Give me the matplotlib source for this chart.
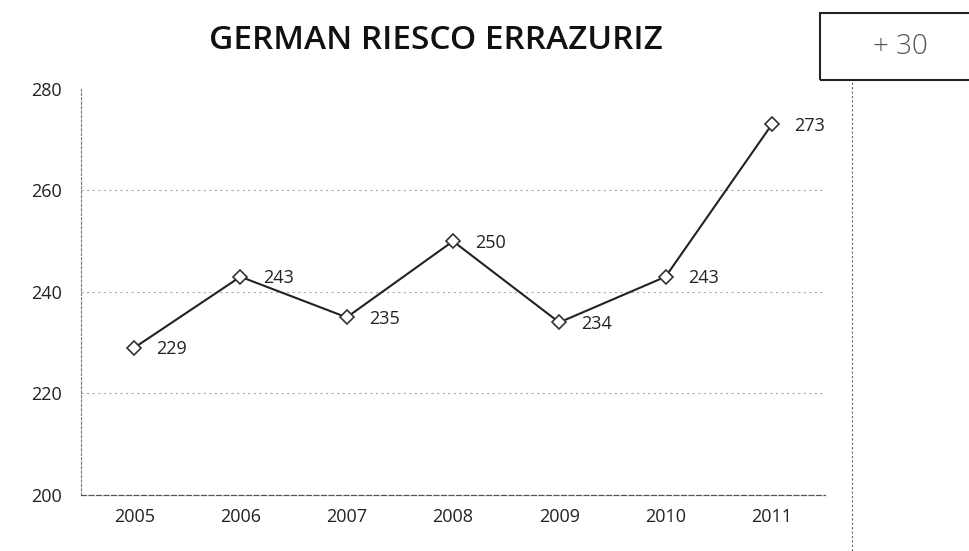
import matplotlib
matplotlib.use("Agg")
import matplotlib.pyplot as plt
from matplotlib.patches import Rectangle
from matplotlib.lines import Line2D

years = ["2005", "2006", "2007", "2008", "2009", "2010", "2011"]
values = [229, 243, 235, 250, 234, 243, 273]
title = "GERMAN RIESCO ERRAZURIZ"
box_text = "+ 30"
yticks = [200, 220, 240, 260, 280]

plt.rcParams['font.family'] = ['Open Sans', 'DejaVu Sans']

fig = plt.figure(figsize=(9.7, 5.51), dpi=100)
ax = fig.add_axes([0.0835, 0.1016, 0.767, 0.737])

x = list(range(len(years)))
ax.plot(x, values, color="#222222", lw=1.5, marker="D", markersize=7,
        markerfacecolor="white", markeredgecolor="#333333", markeredgewidth=1.2, zorder=3)
for xi, v in zip(x, values):
    ax.annotate(str(v), (xi, v), xytext=(16, -1), textcoords="offset points",
                va="center", ha="left", fontsize=13, color="#222222")

ax.set_xlim(-0.5, len(years) - 0.5)
ax.set_ylim(200, 280)
ax.set_yticks(yticks)
ax.set_xticks(x)
ax.set_xticklabels(years)
ax.tick_params(axis="both", length=0, labelsize=13, colors="#222222")
ax.tick_params(axis="x", pad=9)
ax.tick_params(axis="y", pad=14)
for yv in yticks[1:-1]:
    ax.axhline(yv, color="#aaaaaa", lw=0.8, ls=(0, (2, 3)), zorder=1)
for s in ["top", "right"]:
    ax.spines[s].set_visible(False)
ax.spines["left"].set_color("#777777")
ax.spines["left"].set_linestyle((0, (2, 2)))
ax.spines["left"].set_linewidth(0.8)
ax.spines["bottom"].set_color("#555555")
ax.spines["bottom"].set_linestyle((0, (4, 2)))
ax.spines["bottom"].set_linewidth(0.9)

fig.text(0.449, 0.927, title, ha="center", va="center", fontsize=24,
         fontweight="semibold", color="#111111")

rect = Rectangle((820 / 970, 1 - 80 / 551), 0.2, 67 / 551, transform=fig.transFigure,
                 fill=False, edgecolor="#222222", lw=1.5, clip_on=False)
fig.patches.append(rect)
fig.text(900 / 970, 1 - 47 / 551, box_text, ha="center", va="center", fontsize=20,
         color="#555555", fontweight="light")
fig.lines.append(Line2D([852 / 970, 852 / 970], [0, 1 - 80 / 551], transform=fig.transFigure,
                        color="#666666", lw=0.8, ls=(0, (2, 2))))

fig.savefig("out.png", dpi=100, facecolor="white")
